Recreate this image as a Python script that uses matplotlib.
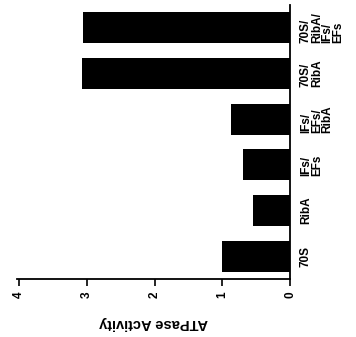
import matplotlib
matplotlib.use("Agg")
import matplotlib.pyplot as plt

# categories from bottom to top (original left to right before the scan was rotated)
categories = ["70S", "RibA", "IFs/\nEFs", "IFs/\nEFs/\nRibA", "70S/\nRibA", "70S/\nRibA/\nIFs/\nEFs"]
activity = [1.0, 0.55, 0.69, 0.87, 3.07, 3.06]
value_ticks = [0, 1, 2, 3, 4]

plt.rcParams["font.family"] = ["Liberation Sans", "DejaVu Sans"]

fig = plt.figure(figsize=(3.56, 3.37), dpi=100)
ax = fig.add_axes([0.048, 0.172, 0.767, 0.813])

pos = list(range(len(categories)))
ax.barh(pos, activity, height=0.68, color="black")

ax.set_xlim(4.03, 0)
ax.set_ylim(-0.5, 5.5)

# spines: value axis at bottom, category axis at the right (value 0)
ax.spines["top"].set_visible(False)
ax.spines["left"].set_visible(False)
ax.spines["right"].set_linewidth(1.3)
ax.spines["bottom"].set_linewidth(1.3)

ax.set_xticks(value_ticks)
ax.set_xticklabels([str(t) for t in value_ticks], rotation=90, fontsize=8.5, fontweight="bold")
ax.tick_params(axis="x", direction="out", length=5, width=1.2, pad=4)

ax.yaxis.tick_right()
ax.set_yticks(pos)
ax.set_yticklabels(categories, rotation=90, fontsize=8.5, fontweight="bold",
                   va="center", ha="left", multialignment="left", linespacing=0.88)
ax.tick_params(axis="y", length=0, pad=7)

ax.set_xlabel("ATPase Activity", rotation=180, fontsize=10.5, fontweight="bold", labelpad=13)

fig.savefig("out.png", dpi=100)
